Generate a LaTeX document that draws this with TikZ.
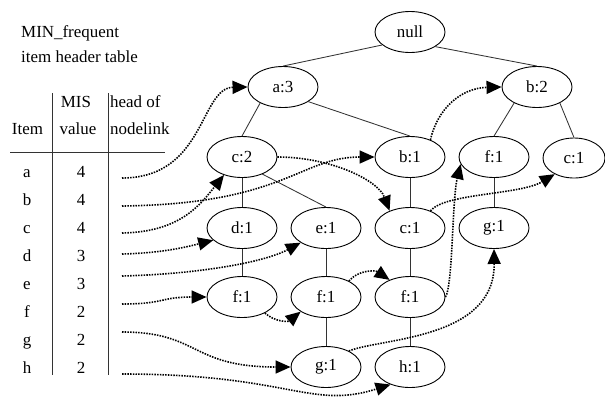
\documentclass[tikz,border=0pt]{standalone}
\usepackage{fontspec}
\setmainfont{Liberation Serif}
\usetikzlibrary{arrows.meta,shapes.geometric}
\begin{document}
\begin{tikzpicture}[x=1bp,y=-1bp,
  every node/.style={font=\fontsize{17}{20}\selectfont},
  tn/.style={draw, line width=0.9bp, ellipse, minimum width=70bp, minimum height=41bp, inner sep=0pt},
  edge/.style={line width=0.85bp, black!80},
  link/.style={line width=1.6bp, dash pattern=on 1.5bp off 1.2bp, -{Triangle[length=15bp,width=13bp]}},
  tline/.style={line width=0.9bp, black!80},
  txt/.style={anchor=base, inner sep=0pt},
  txtw/.style={anchor=base west, inner sep=0pt}]
\useasboundingbox (0,0) rectangle (605,403);

% header table
\node[txtw] (title1) at (21,37) {MIN\_frequent};
\node[txtw] (title2) at (21,62) {item header table};
\node[txt] (hmis) at (76,107) {MIS};
\node[txtw] (hhead) at (110,107) {head of};
\node[txt] (hitem) at (27.5,134) {Item};
\node[txt] (hval) at (78,134) {value};
\node[txtw] (hnl) at (110,134) {nodelink};
\draw[tline] (52,93) -- (52,375);
\draw[tline] (108,93) -- (108,375);
\draw[tline] (10,152) -- (165,152);
\foreach \l/\v [count=\i from 0] in {a/4,b/4,c/4,d/3,e/3,f/2,g/2,h/2}{
  \node[txt] (it\l) at (27,{177+28*\i}) {\l};
  \node[txt] (mv\l) at (81,{177+28*\i}) {\v};
}
\coordinate (ra) at (122,178);
\coordinate (rb) at (122,206);
\coordinate (rc) at (122,233);
\coordinate (rd) at (122,254);
\coordinate (re) at (122,276);
\coordinate (rf) at (122,304);
\coordinate (rg) at (122,332);
\coordinate (rh) at (122,374);

% tree nodes
\node[tn] (null) at (410,32) {null};
\node[tn] (a3) at (283,87) {a:3};
\node[tn] (b2) at (537,87) {b:2};
\node[tn] (c2) at (242,157) {c:2};
\node[tn] (b1) at (410,157) {b:1};
\node[tn] (f1r) at (494,157) {f:1};
\node[tn, minimum width=62bp, minimum height=40bp] (c1r) at (574,158) {c:1};
\node[tn] (d1) at (242,228) {d:1};
\node[tn] (e1) at (326,228) {e:1};
\node[tn] (c1m) at (410,228) {c:1};
\node[tn] (g1r) at (494,228) {g:1};
\node[tn] (f1a) at (242,297) {f:1};
\node[tn] (f1b) at (326,297) {f:1};
\node[tn] (f1c) at (410,297) {f:1};
\node[tn] (g1b) at (326,367) {g:1};
\node[tn] (h1) at (410,367) {h:1};

% tree edges
\draw[edge] (null.205) -- (a3.north);
\draw[edge] (null.330) -- (b2.north);
\draw[edge] (a3.215) -- (c2.north);
\draw[edge] (a3.-30) -- (b1.north);
\draw[edge] (b2.215) -- (f1r.north);
\draw[edge] (b2.-35) -- (c1r.north);
\draw[edge] (c2) -- (d1);
\draw[edge] (c2.-40) -- (e1.north);
\draw[edge] (b1) -- (c1m);
\draw[edge] (f1r) -- (g1r);
\draw[edge] (d1) -- (f1a);
\draw[edge] (e1) -- (f1b);
\draw[edge] (c1m) -- (f1c);
\draw[edge] (f1b) -- (g1b);
\draw[edge] (f1c) -- (h1);

% header links
\draw[link] (ra) .. controls (205,178) and (200,88) .. (a3.west);
\draw[link] (rb) .. controls (285,204) and (300,157) .. (b1.west);
\draw[link] (rc) .. controls (180,232) and (200,205) .. (c2.225);
\draw[link] (rd) .. controls (165,253) and (190,246) .. (d1.203);
\draw[link] (re) .. controls (200,274) and (265,262) .. (e1.210);
\draw[link] (rf) .. controls (165,304) and (160,297) .. (f1a.west);
\draw[link] (rg) .. controls (200,332) and (190,367) .. (g1b.west);
\draw[link] (rh) .. controls (290,374) and (310,410) .. (h1.222);

% node links
\draw[link] (c2.east) .. controls (330,157) and (378,180) .. (c1m.140);
\draw[link] (b1.40) .. controls (437,110) and (460,88) .. (b2.west);
\draw[link] (c1m.40) .. controls (445,193) and (520,195) .. (c1r.220);
\draw[link] (f1a.-35) .. controls (275,322) and (288,322) .. (f1b.210);
\draw[link] (f1b.35) .. controls (358,270) and (375,270) .. (f1c.140);
\draw[link] (f1c.east) .. controls (453,285) and (452,200) .. (f1r.192);
\draw[link] (g1b.35) .. controls (380,338) and (495,340) .. (g1r.south);
\end{tikzpicture}
\end{document}
